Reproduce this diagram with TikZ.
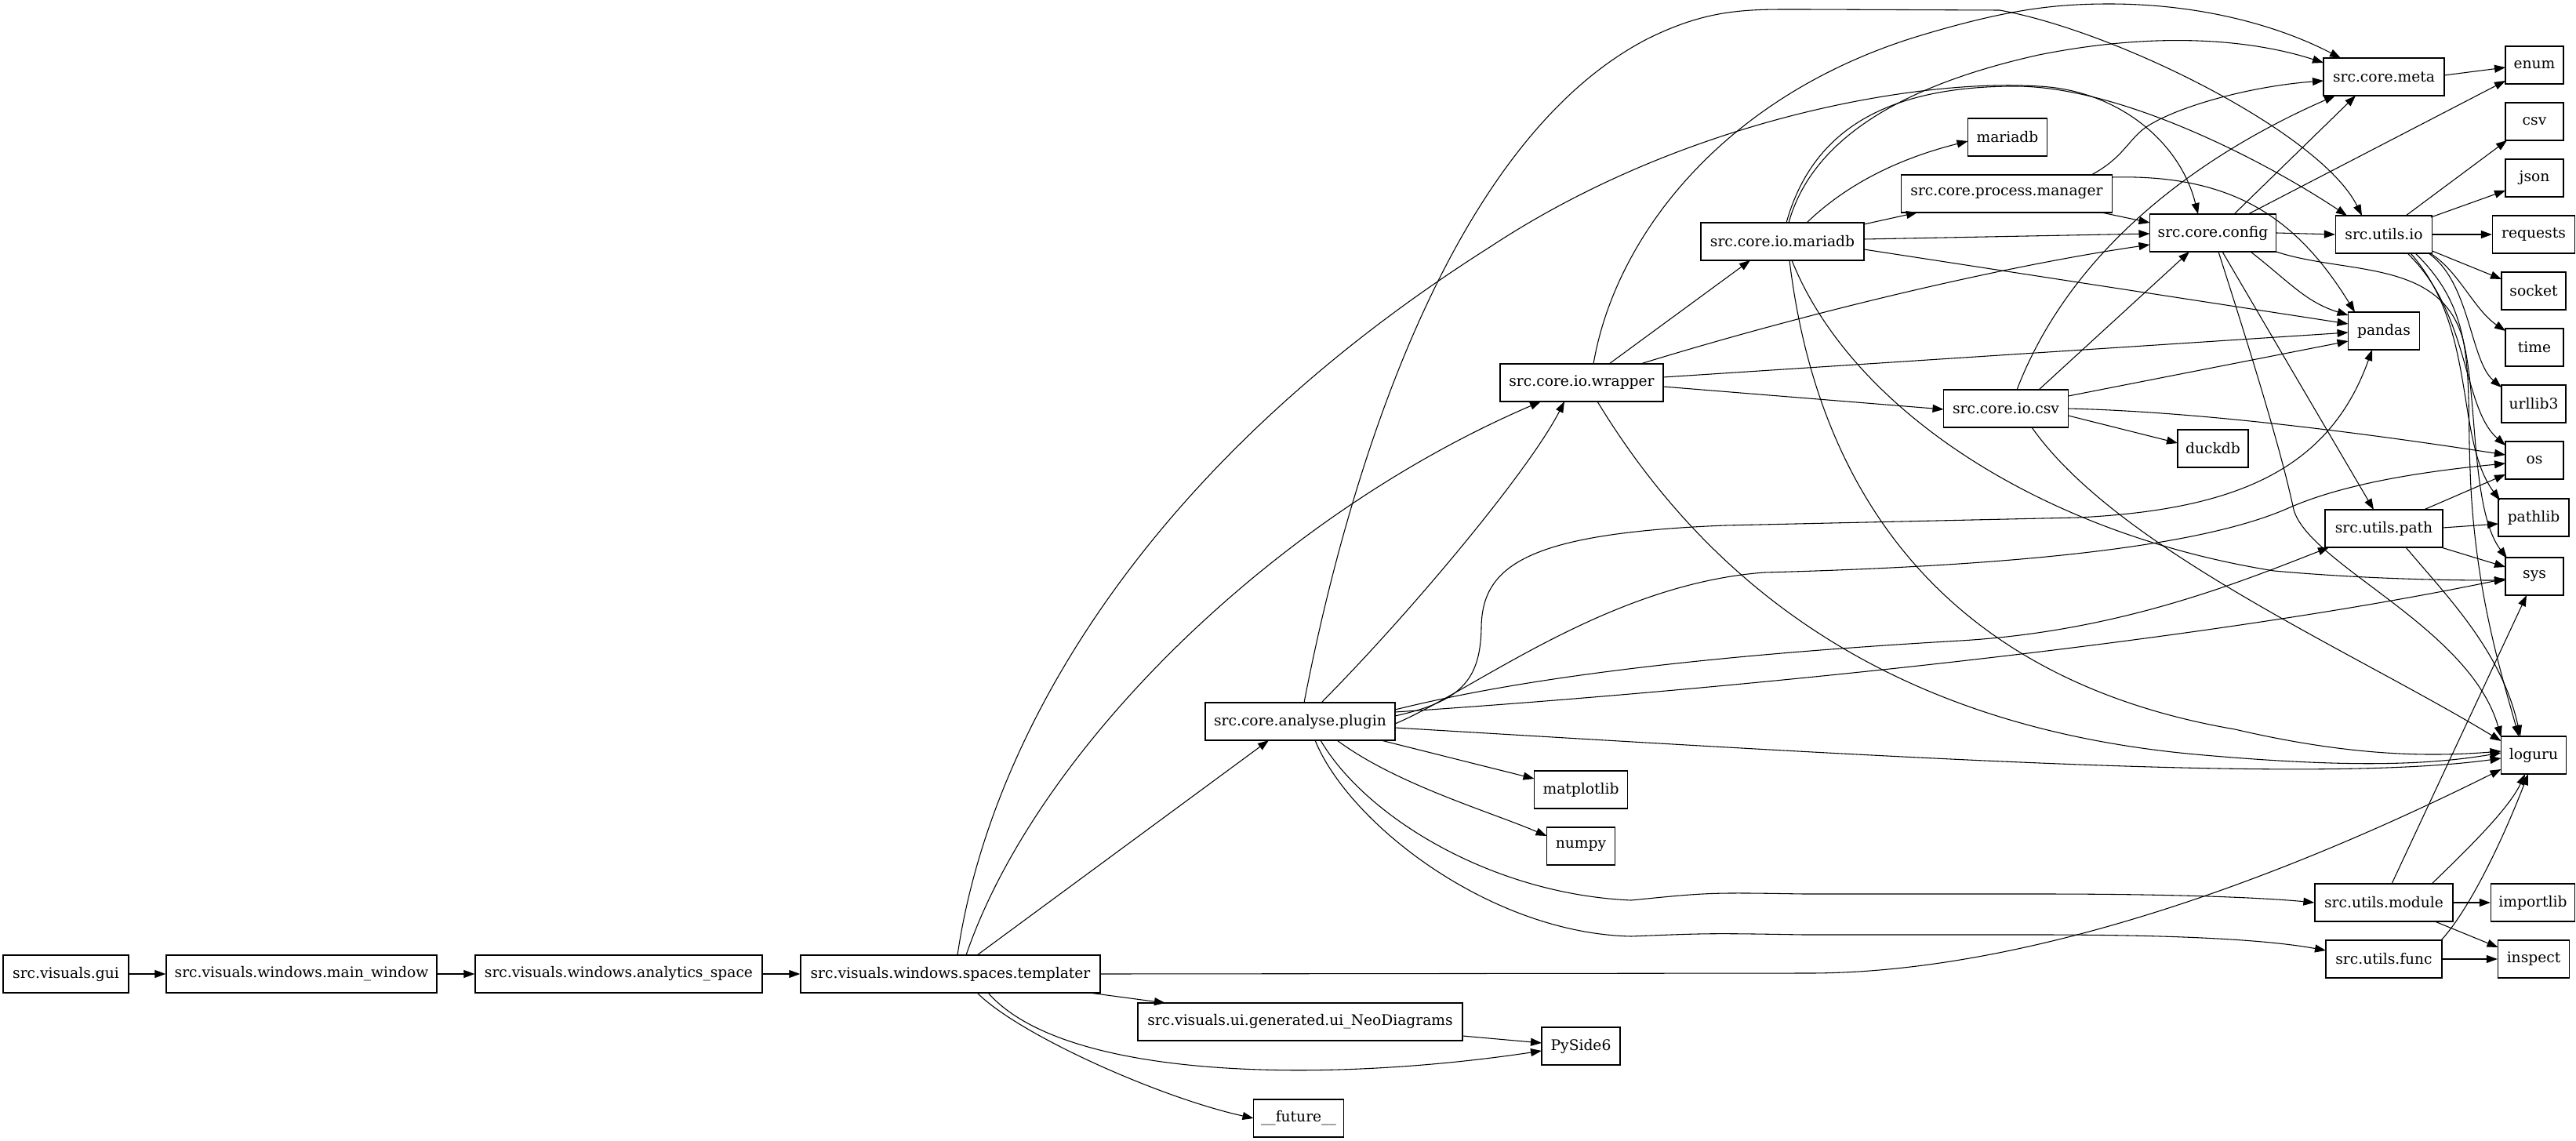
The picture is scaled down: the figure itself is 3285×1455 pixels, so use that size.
\documentclass[tikz,border=0pt]{standalone}
\usepackage{fontspec}
\setmainfont{DejaVu Serif}
\usetikzlibrary{arrows.meta,calc}
\begin{document}
\begin{tikzpicture}[x=0.75pt,y=-0.75pt,
  mod/.style={draw, line width=1pt, rectangle, minimum height=36pt, inner xsep=2pt, inner ysep=0pt, font=\fontsize{14}{16}\selectfont},
  dep/.style={line width=0.8pt, -{Triangle[length=10.5pt,width=7.5pt]}}]
\useasboundingbox[fill=white] (0,0) rectangle (3285,1455);
% nodes
\node[mod, minimum width=120pt] (gui) at (84,1242) {src.visuals.gui};
\node[mod, minimum width=258.75pt] (main) at (384.5,1242) {src.visuals.windows.main\_window};
\node[mod, minimum width=274.5pt] (ana) at (789,1242) {src.visuals.windows.analytics\_space};
\node[mod, minimum width=286.5pt] (tpl) at (1212,1242) {src.visuals.windows.spaces.templater};
\node[mod, minimum width=310.5pt] (ui) at (1658,1303) {src.visuals.ui.generated.ui\_NeoDiagrams};
\node[mod, minimum width=75pt] (pys) at (2016,1334) {PySide6};
\node[mod, minimum width=86.25pt] (fut) at (1656,1426) {\_\_future\_\_};
\node[mod, minimum width=181.5pt] (plg) at (1658,920) {src.core.analyse.plugin};
\node[mod, minimum width=89.25pt] (mpl) at (2016,1007) {matplotlib};
\node[mod, minimum width=65.25pt] (npy) at (2016,1079) {numpy};
\node[mod, minimum width=156pt] (wrp) at (2017,488) {src.core.io.wrapper};
\node[mod, minimum width=156pt] (iomdb) at (2273,308) {src.core.io.mariadb};
\node[mod, minimum width=75.75pt] (mdb) at (2560,175) {mariadb};
\node[mod, minimum width=201.75pt] (pm) at (2559,247) {src.core.process.manager};
\node[mod, minimum width=119.25pt] (iocsv) at (2558,521) {src.core.io.csv};
\node[mod, minimum width=67.5pt] (duck) at (2822,572) {duckdb};
\node[mod, minimum width=120.75pt] (cfg) at (2822,297) {src.core.config};
\node[mod, minimum width=115.5pt] (meta) at (3040,98) {src.core.meta};
\node[mod, minimum width=68.25pt] (pd) at (3040,422) {pandas};
\node[mod, minimum width=92.25pt] (uio) at (3040,299) {src.utils.io};
\node[mod, minimum width=112.5pt] (upath) at (3040,674) {src.utils.path};
\node[mod, minimum width=132pt] (umod) at (3040,1151) {src.utils.module};
\node[mod, minimum width=111pt] (ufunc) at (3040,1223) {src.utils.func};
\node[mod, minimum width=55.5pt] (nenum) at (3232,83) {enum};
\node[mod, minimum width=55.5pt] (ncsv) at (3232,155) {csv};
\node[mod, minimum width=55.5pt] (njson) at (3232,227) {json};
\node[mod, minimum width=78.75pt] (nreq) at (3231,299) {requests};
\node[mod, minimum width=61.5pt] (nsock) at (3231,371) {socket};
\node[mod, minimum width=55.5pt] (ntime) at (3232,443) {time};
\node[mod, minimum width=61.5pt] (nurl) at (3231,515) {urllib3};
\node[mod, minimum width=55.5pt] (nos) at (3232,587) {os};
\node[mod, minimum width=67.5pt] (nplib) at (3231,660) {pathlib};
\node[mod, minimum width=55.5pt] (nsys) at (3232,735) {sys};
\node[mod, minimum width=62.25pt] (nlog) at (3231,963) {loguru};
\node[mod, minimum width=80.25pt] (nimp) at (3230,1151) {importlib};
\node[mod, minimum width=68.25pt] (ninsp) at (3231,1223) {inspect};
% edges: left chain
\draw[dep] (gui) -- (main);
\draw[dep] (main) -- (ana);
\draw[dep] (ana) -- (tpl);
% templater
\draw[dep] ($(tpl)+(177,24)$) -- ($(ui)+(-172,-24)$);
\draw[dep] ($(tpl)+(48,24)$) .. controls (1360,1380) and (1700,1380) .. ($(pys)+(-50,6)$);
\draw[dep] ($(tpl)+(34,24)$) .. controls (1300,1320) and (1480,1400) .. ($(fut)+(-57.5,0)$);
\draw[dep] (tpl.east) -- (2310,1241) .. controls (2550,1240) and (2850,1150) .. ($(nlog)+(-41.5,18)$);
\draw[dep] ($(tpl)+(34,-24)$) -- ($(plg)+(-40,24)$);
\draw[dep] ($(tpl)+(20,-24)$) .. controls (1320,960) and (1620,660) .. ($(wrp)+(-52,24)$);
\draw[dep] ($(tpl)+(9,-24)$) .. controls (1260,950) and (1450,600) .. (1900,315) .. controls (2150,150) and (2450,100) .. (2600,110) .. controls (2700,115) and (2780,180) .. ($(cfg)+(-19,-24)$);
\draw[dep] ($(ui)+(207,18)$) -- ($(pys)+(-50,-4)$);
% plugin
\draw[dep] ($(plg)+(5,-24)$) .. controls (1720,600) and (1850,180) .. (2100,50) .. controls (2180,10) and (2230,12) .. (2300,12) -- (2550,13) .. controls (2700,40) and (2960,170) .. ($(uio)+(-28,-24)$);
\draw[dep] ($(plg)+(27,-24)$) .. controls (1800,780) and (1950,600) .. ($(wrp)+(-22,24)$);
\draw[dep] ($(plg)+(121,-15)$) .. controls (1900,875) and (2100,840) .. (2500,817) .. controls (2700,805) and (2850,745) .. ($(upath)+(-70,24)$);
\draw[dep] ($(plg)+(121,-7)$) .. controls (1860,895) and (1888,870) .. (1889,800) .. controls (1890,720) and (1950,680) .. (2200,670) -- (2650,660) .. controls (2850,650) and (2970,600) .. ($(pd)+(-15,24)$);
\draw[dep] ($(plg)+(121,3)$) .. controls (1880,880) and (2050,745) .. (2250,730) .. controls (2550,722) and (2800,700) .. (2918,648) .. controls (2970,625) and (3050,605) .. ($(nos)+(-37,4)$);
\draw[dep] ($(plg)+(121,-12)$) .. controls (2200,880) and (2800,820) .. ($(nsys)+(-37,3)$);
\draw[dep] ($(plg)+(121,8)$) .. controls (2400,965) and (2950,1000) .. ($(nlog)+(-41.5,4)$);
\draw[dep] ($(plg)+(103,24)$) -- ($(mpl)+(-59.5,-14)$);
\draw[dep] ($(plg)+(47,24)$) .. controls (1780,1000) and (1900,1035) .. ($(npy)+(-43.5,-13)$);
\draw[dep] ($(plg)+(26,24)$) .. controls (1740,1040) and (1900,1140) .. (2080,1148) .. controls (2180,1138) .. (2300,1140) -- (2600,1140) .. controls (2800,1140) and (2900,1146) .. (umod.west);
\draw[dep] ($(plg)+(19,24)$) .. controls (1720,1050) and (1900,1190) .. (2080,1194) .. controls (2180,1190) .. (2300,1192) -- (2600,1192) .. controls (2800,1192) and (2900,1200) .. ($(ufunc)+(-74,-11)$);
% wrapper
\draw[dep] ($(wrp)+(35,-24)$) -- ($(iomdb)+(-41,24)$);
\draw[dep] ($(wrp)+(75,-24)$) .. controls (2300,400) and (2550,340) .. ($(cfg)+(-80.5,15)$);
\draw[dep] ($(wrp)+(104,-7)$) -- ($(pd)+(-45.5,2)$);
\draw[dep] ($(wrp)+(104,5)$) -- ($(iocsv)+(-79.5,1)$);
\draw[dep] ($(wrp)+(20,24)$) .. controls (2200,780) and (2450,930) .. (2800,962) .. controls (3000,980) and (3100,975) .. ($(nlog)+(-41.5,-3)$);
\draw[dep] ($(wrp)+(15,-24)$) .. controls (2060,300) and (2200,120) .. (2450,45) .. controls (2560,12) and (2620,5) .. (2690,5) .. controls (2800,5) and (2900,30) .. ($(meta)+(-55,-24)$);
% io.mariadb
\draw[dep] ($(iomdb)+(31,-24)$) .. controls (2360,230) and (2430,200) .. ($(mdb)+(-50.5,5)$);
\draw[dep] ($(iomdb)+(104,-22)$) -- ($(pm)+(-114,24)$);
\draw[dep] ($(iomdb)+(104,-3)$) -- ($(cfg)+(-80.5,1)$);
\draw[dep] ($(iomdb)+(104,10)$) -- ($(pd)+(-45.5,-9)$);
\draw[dep] ($(iomdb)+(9,24)$) .. controls (2320,650) and (2500,870) .. (2850,930) .. controls (3000,965) and (3100,965) .. ($(nlog)+(-41.5,-5)$);
\draw[dep] ($(iomdb)+(12,24)$) .. controls (2360,520) and (2600,680) .. (2900,728) .. controls (3000,737) and (3100,740) .. ($(nsys)+(-37,5)$);
\draw[dep] ($(iomdb)+(8,-24)$) .. controls (2310,180) and (2420,110) .. (2600,70) .. controls (2750,40) and (2870,50) .. ($(meta)+(-77,-18)$);
\draw[dep] ($(iomdb)+(5,-24)$) .. controls (2310,170) and (2400,110) .. (2570,110) .. controls (2700,110) and (2880,200) .. ($(uio)+(-47,-24)$);
% process.manager
\draw[dep] ($(pm)+(121,24)$) -- ($(cfg)+(-80.5,-13)$);
\draw[dep] ($(pm)+(108,-24)$) .. controls (2710,200) and (2715,175) .. (2740,160) .. controls (2780,135) and (2870,110) .. ($(meta)+(-77,5)$);
\draw[dep] ($(pm)+(134.5,-21)$) .. controls (2850,222) and (2930,280) .. ($(pd)+(-37,-24)$);
% io.csv
\draw[dep] ($(iocsv)+(14,-24)$) .. controls (2640,320) and (2800,200) .. ($(meta)+(-62,24)$);
\draw[dep] ($(iocsv)+(42,-24)$) -- ($(cfg)+(-30,24)$);
\draw[dep] ($(iocsv)+(79.5,-16)$) -- ($(pd)+(-45.5,13)$);
\draw[dep] ($(iocsv)+(79.5,9)$) -- ($(duck)+(-45,-7)$);
\draw[dep] ($(iocsv)+(79.5,0)$) .. controls (2800,525) and (3000,550) .. ($(nos)+(-37,-7)$);
\draw[dep] ($(iocsv)+(33,24)$) .. controls (2700,700) and (3000,830) .. ($(nlog)+(-41.5,-18)$);
% config
\draw[dep] (cfg.east) -- (uio.west);
\draw[dep] ($(cfg)+(27,-24)$) -- ($(meta)+(-36,24)$);
\draw[dep] ($(cfg)+(45,-24)$) -- ($(nenum)+(-37,20)$);
\draw[dep] ($(cfg)+(48,24)$) .. controls (2920,360) and (2940,385) .. ($(pd)+(-45.5,-20)$);
\draw[dep] ($(cfg)+(12,24)$) -- ($(upath)+(-13,-24)$);
\draw[dep] ($(cfg)+(7,24)$) .. controls (2880,480) and (2910,580) .. (2925,650) .. controls (2945,720) and (3150,800) .. ($(nlog)+(-41.5,-23)$);
\draw[dep] ($(cfg)+(80.5,24)$) .. controls (2990,350) and (3110,330) .. (3140,430) .. controls (3160,500) and (3150,650) .. ($(nsys)+(-35,-23)$);
% meta
\draw[dep] ($(meta)+(77,-2)$) -- ($(nenum)+(-37,3)$);
% utils.io
\draw[dep] ($(uio)+(28,-24)$) -- ($(ncsv)+(-35,24)$);
\draw[dep] ($(uio)+(60,-22)$) -- ($(njson)+(-37,16)$);
\draw[dep] (uio.east) -- (nreq.west);
\draw[dep] ($(uio)+(61.5,21)$) -- ($(nsock)+(-41,-15)$);
\draw[dep] ($(uio)+(59,24)$) .. controls (3135,345) and (3155,395) .. ($(ntime)+(-37,-21)$);
\draw[dep] ($(uio)+(57,24)$) .. controls (3150,360) and (3150,460) .. ($(nurl)+(-41,-21)$);
\draw[dep] ($(uio)+(30,24)$) .. controls (3150,400) and (3140,520) .. ($(nos)+(-37,-19)$);
\draw[dep] ($(uio)+(34,24)$) .. controls (3160,420) and (3130,560) .. ($(nplib)+(-43,-22)$);
\draw[dep] ($(uio)+(40,24)$) .. controls (3160,400) and (3145,480) .. (3150,600) .. controls (3155,750) and (3190,860) .. ($(nlog)+(-19,-24)$);
% utils.path
\draw[dep] ($(upath)+(51,-24)$) -- ($(nos)+(-37,18)$);
\draw[dep] ($(upath)+(75,-1)$) -- ($(nplib)+(-45,8)$);
\draw[dep] ($(upath)+(73,24)$) -- ($(nsys)+(-37,-12)$);
\draw[dep] ($(upath)+(28,24)$) .. controls (3120,760) and (3190,830) .. ($(nlog)+(-17,-24)$);
% utils.module
\draw[dep] ($(umod)+(10,-24)$) -- ($(nsys)+(-10,24)$);
\draw[dep] ($(umod)+(61,-24)$) .. controls (3150,1080) and (3200,1030) .. ($(nlog)+(-11,24)$);
\draw[dep] (umod.east) -- (nimp.west);
\draw[dep] ($(umod)+(65,24)$) -- ($(ninsp)+(-45.5,-15)$);
% utils.func
\draw[dep] ($(ufunc)+(73,-24)$) .. controls (3140,1170) and (3180,1100) .. ($(nlog)+(-7,24)$);
\draw[dep] (ufunc.east) -- (ninsp.west);
\end{tikzpicture}
\end{document}
